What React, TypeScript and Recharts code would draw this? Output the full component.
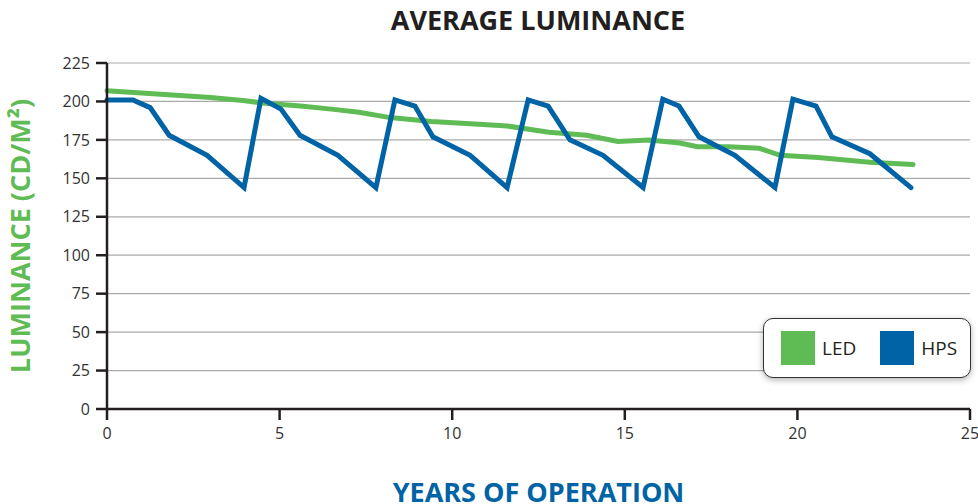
import React from 'react';
import {
  CartesianGrid,
  Line,
  LineChart,
  XAxis,
  YAxis,
} from 'recharts';

const LED_GREEN = '#5FBC55';
const HPS_BLUE = '#0063A5';

// x positions (years) and luminance values
const hpsYears = [
  0, 0.75, 1.25, 1.8, 2.9, 3.97, 4.46, 5.04, 5.59, 6.69, 7.79, 8.34, 8.92, 9.44, 10.52, 11.59,
  12.2, 12.78, 13.41, 14.37, 15.53, 16.1, 16.57, 17.15, 18.19, 19.35, 19.87, 20.54, 21.0, 22.1, 23.29,
];
const hpsValues = [
  201, 201, 196, 178, 165, 144, 202, 195, 178, 165, 144, 201, 197, 177, 165, 144,
  201, 197, 175, 165, 144, 201.5, 197, 177, 165, 144, 201.5, 197, 177, 166, 144,
];

const ledYears = [
  0, 1, 2, 3, 4, 4.5, 5.6, 6.5, 7.3, 8.2, 9.4, 10.9, 11.6, 12.8, 13.9, 14.8, 15.7, 16.6, 17.1,
  18.0, 18.9, 19.5, 20.6, 22.1, 23.35,
];
const ledValues = [
  207, 205.5, 204, 202.5, 200.5, 199, 197, 195, 193, 189.5, 187, 185, 184, 180, 178, 174, 175,
  173, 170.5, 170.5, 169.5, 165, 163.5, 160.5, 159,
];

const xTicks = [0, 5, 10, 15, 20, 25];
const yTicks = [0, 25, 50, 75, 100, 125, 150, 175, 200, 225];

const hpsData = hpsYears.map((year, i) => ({ year, value: hpsValues[i] }));
const ledData = ledYears.map((year, i) => ({ year, value: ledValues[i] }));

const AXIS_COLOR = '#231F20';
const FONT = '"Open Sans", "Noto Sans", sans-serif';

// drawn as an overlay so it does not take space from the plot area
const LegendBox = () => (
  <div
    style={{
      position: 'absolute',
      left: 763,
      top: 318,
      width: 208,
      height: 60,
      boxSizing: 'border-box',
      border: '1.5px solid #333',
      borderRadius: 10,
      background: '#fff',
      boxShadow: '0 2px 6px rgba(0,0,0,0.3)',
      display: 'flex',
      alignItems: 'center',
      fontFamily: FONT,
      fontSize: 19,
      color: '#231F20',
    }}
  >
    <div style={{ width: 34, height: 34, background: LED_GREEN, marginLeft: 17 }} />
    <span style={{ marginLeft: 7 }}>LED</span>
    <div style={{ width: 34, height: 34, background: HPS_BLUE, marginLeft: 24 }} />
    <span style={{ marginLeft: 7 }}>HPS</span>
  </div>
);

export default function App() {
  return (
    <div style={{ position: 'absolute', left: 0, top: 0, width: 978, height: 504, background: '#fff' }}>
      <div
        style={{
          position: 'absolute',
          left: 0,
          top: 1,
          width: 1076,
          textAlign: 'center',
          fontFamily: FONT,
          fontWeight: 700,
          fontSize: 27,
          color: '#231F20',
        }}
      >
        AVERAGE LUMINANCE
      </div>
      <LineChart width={978} height={504} margin={{ top: 63, right: 8, left: 0, bottom: 0 }}>
        <CartesianGrid vertical={false} stroke="#AAAAAA" strokeWidth={1.2} />
        <XAxis
          type="number"
          dataKey="year"
          domain={[0, 25]}
          ticks={xTicks}
          allowDuplicatedCategory={false}
          height={95}
          stroke={AXIS_COLOR}
          strokeWidth={2.5}
          tickSize={11}
          tickMargin={8}
          tick={{ fontSize: 16, fill: '#333', fontFamily: FONT }}
          label={{
            value: 'YEARS OF OPERATION',
            position: 'insideBottom',
            offset: 2,
            style: { fontSize: 27, fontWeight: 700, fill: HPS_BLUE, fontFamily: FONT },
          }}
        />
        <YAxis
          type="number"
          domain={[0, 225]}
          ticks={yTicks}
          width={107}
          stroke={AXIS_COLOR}
          strokeWidth={2.5}
          tickSize={11}
          tickMargin={6}
          tick={{ fontSize: 16, fill: '#333', fontFamily: FONT }}
          label={{
            value: 'LUMINANCE (CD/M²)',
            angle: -90,
            position: 'insideLeft',
            offset: 20,
            style: { textAnchor: 'middle', fontSize: 27, fontWeight: 700, fill: LED_GREEN, fontFamily: FONT },
          }}
        />
        <Line
          data={ledData}
          dataKey="value"
          name="LED"
          type="linear"
          stroke={LED_GREEN}
          strokeWidth={5}
          strokeLinecap="round"
          dot={false}
          isAnimationActive={false}
        />
        <Line
          data={hpsData}
          dataKey="value"
          name="HPS"
          type="linear"
          stroke={HPS_BLUE}
          strokeWidth={5}
          strokeLinecap="round"
          dot={false}
          isAnimationActive={false}
        />
      </LineChart>
      <LegendBox />
    </div>
  );
}
